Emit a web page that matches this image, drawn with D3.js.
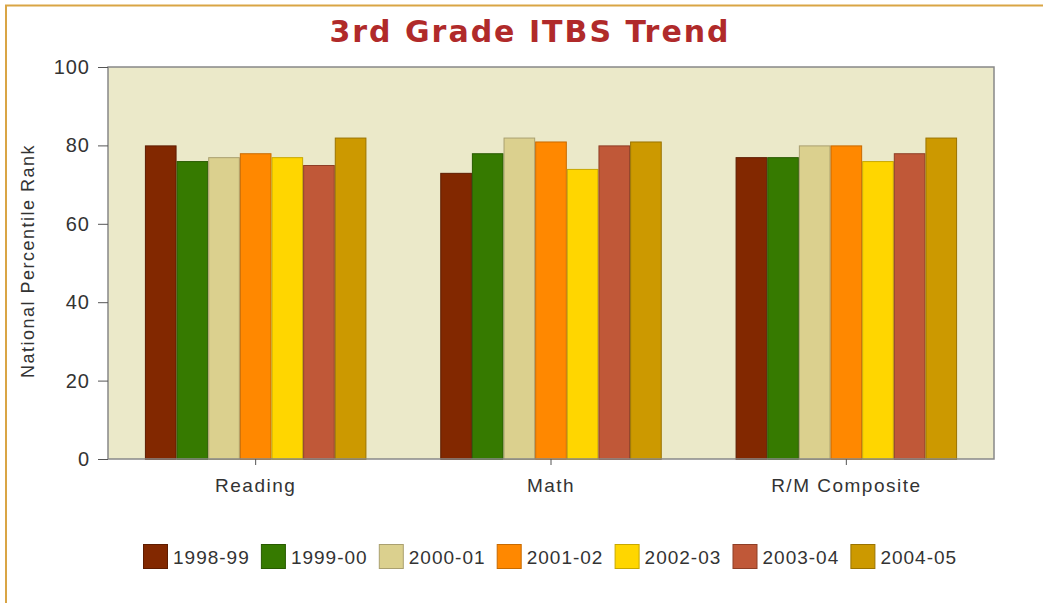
<!DOCTYPE html>
<html>
<head>
<meta charset="utf-8">
<script src="https://cdn.jsdelivr.net/npm/d3@7"></script>
<style>
  body { margin: 0; background: #fff; }
  #root { width: 1043px; height: 603px; }
</style>
</head>
<body>
<div id="root"></div>
<script>
const categories = ["Reading", "Math", "R/M Composite"]
const years = ["1998-99", "1999-00", "2000-01", "2001-02", "2002-03", "2003-04", "2004-05"]
const fills = ["#822800", "#367a00", "#dbd08e", "#ff8800", "#ffd600", "#c05838", "#cc9900"]
const strokes = ["#5e1c00", "#285a00", "#aaa070", "#c86a00", "#c8a800", "#8e3e26", "#9a7300"]
// one row per year, one value per category
const values = [
  [80, 73, 77],
  [76, 78, 77],
  [77, 82, 80],
  [78, 81, 80],
  [77, 74, 76],
  [75, 80, 78],
  [82, 81, 82],
]
const yTicks = [0, 20, 40, 60, 80, 100]

function draw() {
  const root = d3.select("#root")
  root.selectAll("*").remove()

  const width = 1043, height = 603
  const margin = { top: 67, right: 49, bottom: 144, left: 108 }
  const boundedWidth = width - margin.left - margin.right
  const boundedHeight = height - margin.top - margin.bottom
  const sans = "'Liberation Sans', Arial, sans-serif"

  const svg = root.append("svg")
    .attr("width", width)
    .attr("height", height)
    .style("font-family", sans)

  // outer frame (left + top only, like the source image crop)
  svg.append("path")
    .attr("d", `M6,${height} V5.5 H${width}`)
    .attr("fill", "none")
    .attr("stroke", "#d9a545")
    .attr("stroke-width", 2)

  svg.append("text")
    .attr("x", 530)
    .attr("y", 42)
    .attr("text-anchor", "middle")
    .attr("fill", "#b02a2a")
    .style("font-family", "'DejaVu Sans', Verdana, sans-serif")
    .style("font-weight", "bold")
    .style("font-size", "30px")
    .style("letter-spacing", "2px")
    .text("3rd Grade ITBS Trend")

  const bounds = svg.append("g")
    .attr("transform", `translate(${margin.left},${margin.top})`)

  const x0 = d3.scaleBand()
    .domain(categories)
    .range([0, boundedWidth])
    .paddingInner(0.25)
    .paddingOuter(0.125)

  const x1 = d3.scaleBand()
    .domain(years)
    .range([0, x0.bandwidth()])

  const yScale = d3.scaleLinear()
    .domain([0, 100])
    .range([boundedHeight, 0])

  bounds.append("rect")
    .attr("width", boundedWidth)
    .attr("height", boundedHeight)
    .attr("fill", "#ebe9c9")

  const groups = bounds.selectAll(".group")
    .data(categories)
    .join("g")
    .attr("class", "group")
    .attr("transform", d => `translate(${x0(d)},0)`)

  groups.selectAll("rect")
    .data((c, ci) => years.map((yr, i) => ({ yr, i, v: values[i][ci] })))
    .join("rect")
    .attr("x", d => x1(d.yr) + 0.5)
    .attr("y", d => yScale(d.v) + 0.5)
    .attr("width", x1.bandwidth() - 1)
    .attr("height", d => boundedHeight - yScale(d.v))
    .attr("fill", d => fills[d.i])
    .attr("stroke", d => strokes[d.i])
    .attr("stroke-width", 1)

  bounds.append("rect")
    .attr("width", boundedWidth)
    .attr("height", boundedHeight)
    .attr("fill", "none")
    .attr("stroke", "#888")
    .attr("stroke-width", 1.5)

  // axes
  const yAxis = bounds.append("g")
    .call(d3.axisLeft(yScale).tickValues(yTicks).tickSize(10).tickPadding(8))
  yAxis.select(".domain").remove()
  yAxis.selectAll("line").attr("stroke", "#555")
  yAxis.selectAll("text")
    .attr("fill", "#333")
    .style("font-size", "20px")
    .style("letter-spacing", "1px")
    .style("font-family", sans)

  const xAxis = bounds.append("g")
    .attr("transform", `translate(0,${boundedHeight})`)
    .call(d3.axisBottom(x0).tickSize(6).tickPadding(14))
  xAxis.select(".domain").remove()
  xAxis.selectAll("line").attr("stroke", "#555")
  xAxis.selectAll("text")
    .attr("fill", "#333")
    .style("font-size", "19px")
    .style("letter-spacing", "1.5px")
    .style("font-family", sans)

  svg.append("text")
    .attr("transform", `translate(34,261) rotate(-90)`)
    .attr("text-anchor", "middle")
    .attr("fill", "#333")
    .style("font-size", "18px")
    .style("letter-spacing", "1.5px")
    .text("National Percentile Rank")

  // legend
  const legend = svg.append("g")
    .attr("transform", "translate(143,544)")
  const items = legend.selectAll("g")
    .data(years)
    .join("g")
    .attr("transform", (d, i) => `translate(${i * 117.9},0)`)
  items.append("rect")
    .attr("x", 0.5)
    .attr("y", 0.5)
    .attr("width", 24)
    .attr("height", 24)
    .attr("fill", (d, i) => fills[i])
    .attr("stroke", (d, i) => strokes[i])
  items.append("text")
    .attr("x", 30)
    .attr("y", 20)
    .attr("fill", "#333")
    .style("font-size", "19px")
    .style("letter-spacing", "1px")
    .text(d => d)
}

draw()
</script>
</body>
</html>
